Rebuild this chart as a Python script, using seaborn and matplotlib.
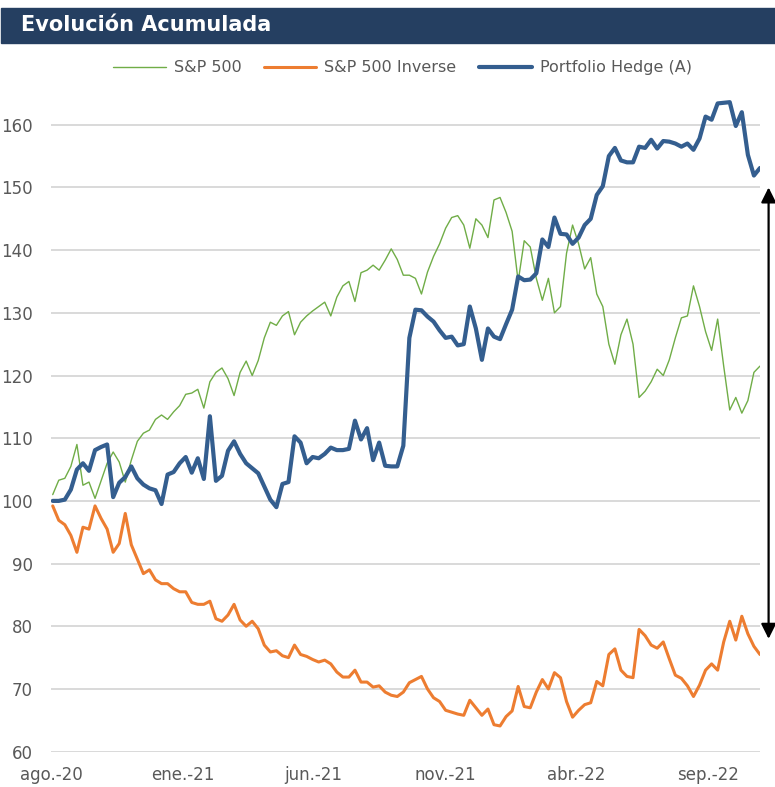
import pandas as pd
import matplotlib.pyplot as plt
import seaborn as sns
from matplotlib.patches import Rectangle

# Weekly readings taken from the reference chart (base 100 = Aug 2020)
dates = pd.date_range("2020-08-03", periods=118, freq="7D")

sp500 = [
    101.0, 103.3, 103.6, 105.5, 109.0, 102.5, 103.0, 100.4, 103.2, 106.0,
    107.8, 106.2, 103.0, 106.5, 109.5, 110.8, 111.3, 113.0, 113.7, 113.0,
    114.2, 115.2, 117.0, 117.2, 117.8, 114.8, 119.0, 120.5, 121.2, 119.5,
    116.8, 120.5, 122.3, 120.0, 122.4, 126.0, 128.5, 128.0, 129.5, 130.2,
    126.5, 128.5, 129.5, 130.3, 131.0, 131.7, 129.5, 132.5, 134.3, 135.0,
    131.8, 136.4, 136.8, 137.6, 136.8, 138.4, 140.2, 138.5, 136.0, 136.0,
    135.5, 133.0, 136.5, 139.0, 141.0, 143.5, 145.2, 145.5, 144.0, 140.3,
    145.0, 144.0, 142.0, 148.0, 148.4, 146.0, 143.0, 135.0, 141.5, 140.5,
    135.5, 132.0, 135.5, 130.0, 131.0, 139.5, 144.0, 141.0, 137.0, 138.8,
    133.0, 131.0, 125.0, 121.8, 126.5, 129.0, 125.0, 116.5, 117.5, 119.0,
    121.0, 120.0, 122.5, 126.0, 129.2, 129.5, 134.3, 131.0, 127.0, 124.0,
    129.0, 121.5, 114.5, 116.5, 114.0, 116.0, 120.5, 121.5,
]

sp500_inverse = [
    99.2, 96.9, 96.2, 94.5, 91.8, 95.8, 95.5, 99.2, 97.2, 95.5,
    91.8, 93.2, 98.0, 93.0, 90.7, 88.4, 89.0, 87.4, 86.8, 86.8,
    86.0, 85.5, 85.5, 83.8, 83.5, 83.5, 84.0, 81.2, 80.8, 81.8,
    83.5, 81.0, 80.0, 80.8, 79.6, 77.0, 75.9, 76.1, 75.3, 75.0,
    77.0, 75.5, 75.2, 74.7, 74.3, 74.6, 74.0, 72.7, 71.9, 71.9,
    73.0, 71.1, 71.1, 70.3, 70.5, 69.5, 69.0, 68.8, 69.5, 71.0,
    71.5, 72.0, 70.0, 68.6, 68.0, 66.6, 66.3, 66.0, 65.8, 68.2,
    67.0, 65.8, 66.8, 64.3, 64.1, 65.6, 66.5, 70.4, 67.2, 67.0,
    69.5, 71.5, 70.0, 72.6, 71.8, 68.0, 65.5, 66.6, 67.5, 67.8,
    71.2, 70.5, 75.5, 76.4, 73.0, 72.0, 71.8, 79.5, 78.5, 77.0,
    76.5, 77.5, 74.8, 72.2, 71.7, 70.5, 68.8, 70.6, 73.0, 74.0,
    73.0, 77.5, 80.8, 77.8, 81.6, 78.8, 76.8, 75.5,
]

portfolio_hedge = [
    100.0, 100.0, 100.2, 101.8, 105.0, 106.0, 104.8, 108.1, 108.6, 109.0,
    100.6, 102.9, 103.8, 105.5, 103.6, 102.6, 102.0, 101.7, 99.5, 104.2,
    104.6, 106.0, 107.0, 104.5, 106.8, 103.5, 113.5, 103.2, 104.0, 108.0,
    109.5, 107.5, 106.0, 105.2, 104.4, 102.3, 100.2, 99.0, 102.7, 103.0,
    110.3, 109.3, 106.0, 107.0, 106.8, 107.5, 108.5, 108.1, 108.1, 108.3,
    112.8, 109.8, 111.6, 106.5, 109.3, 105.6, 105.5, 105.5, 108.8, 126.0,
    130.5, 130.4, 129.4, 128.6, 127.2, 126.0, 126.2, 124.8, 125.0, 131.0,
    127.5, 122.5, 127.5, 126.2, 125.8, 128.2, 130.5, 135.8, 135.2, 135.3,
    136.3, 141.7, 140.5, 145.2, 142.6, 142.5, 141.0, 142.0, 144.0, 145.0,
    148.8, 150.2, 155.0, 156.3, 154.3, 154.0, 154.0, 156.5, 156.3, 157.6,
    156.2, 157.4, 157.3, 157.0, 156.5, 157.0, 156.0, 157.8, 161.3, 160.8,
    163.4, 163.5, 163.6, 159.8, 162.0, 155.2, 151.9, 153.1,
]

series_names = ["S&P 500", "S&P 500 Inverse", "Portfolio Hedge (A)"]
series_colors = ["#70AD47", "#ED7D31", "#345E8F"]
series_widths = [1.0, 2.2, 3.0]

tick_dates = pd.to_datetime(["2020-08-01", "2021-01-01", "2021-06-01",
                             "2021-11-01", "2022-04-01", "2022-09-01"])
tick_labels = ["ago.-20", "ene.-21", "jun.-21", "nov.-21", "abr.-22", "sep.-22"]
y_ticks = [60, 70, 80, 90, 100, 110, 120, 130, 140, 150, 160]

# spread between hedge and inverse at the end of the period
arrow_date = pd.Timestamp("2022-11-10")
arrow_top, arrow_bottom = 150, 78

sns.set_style("white")
plt.rcParams['font.family'] = ['DejaVu Sans']

df = pd.DataFrame({"date": dates, "S&P 500": sp500,
                   "S&P 500 Inverse": sp500_inverse,
                   "Portfolio Hedge (A)": portfolio_hedge})

fig = plt.figure(figsize=(7.75, 7.87), dpi=100)
ax = fig.add_axes([0.0658, 0.0449, 0.9148, 0.8444])

for name, color, lw in zip(series_names, series_colors, series_widths):
    sns.lineplot(data=df, x="date", y=name, color=color, linewidth=lw,
                 label=name, ax=ax, legend=False)

ax.set_xlim(pd.Timestamp("2020-08-01"), pd.Timestamp("2022-10-31"))
ax.set_ylim(60, 166)
ax.set_yticks(y_ticks)
ax.set_xticks(tick_dates)
ax.set_xticklabels(tick_labels)
ax.set_xlabel("")
ax.set_ylabel("")
ax.grid(axis='y', color='#D9D9D9', linewidth=1.4)
ax.grid(axis='x', visible=False)
ax.set_axisbelow(True)
sns.despine(ax=ax, left=True, bottom=True)
ax.tick_params(axis='both', length=0, labelsize=12, colors='#595959')
ax.tick_params(axis='y', pad=13)
ax.tick_params(axis='x', pad=10)

ax.annotate("", xy=(arrow_date, arrow_top), xytext=(arrow_date, arrow_bottom),
            arrowprops=dict(arrowstyle='<|-|>,head_length=0.9,head_width=0.45',
                            color='black', lw=1.6, shrinkA=0, shrinkB=0),
            annotation_clip=False)

handles, labels = ax.get_legend_handles_labels()
leg = fig.legend(handles, labels, loc='center', bbox_to_anchor=(0.519, 0.9136),
                 ncol=3, frameon=False, fontsize=11.5, handlelength=3.3,
                 columnspacing=1.4, handletextpad=0.5)
for t in leg.get_texts():
    t.set_color('#595959')

# title bar
fig.patches.append(Rectangle((0.0013, 0.9457), 0.9987, 0.0441,
                             transform=fig.transFigure, color='#253F61', zorder=0))
fig.text(0.0267, 0.9678, "Evolución Acumulada", color='white', fontsize=15,
         fontweight='bold', va='center', ha='left')

fig.savefig("out.png", dpi=100)
